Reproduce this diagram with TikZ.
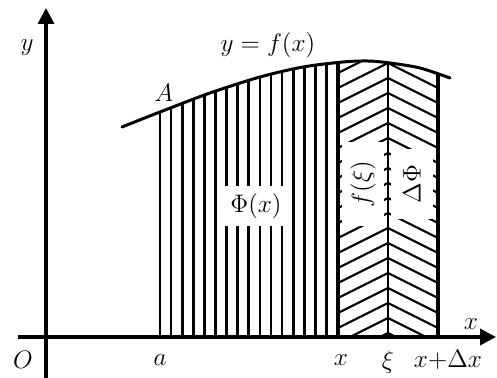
\documentclass[tikz,border=0pt]{standalone}
\usepackage{amsmath,amssymb}
\usepackage{xcolor}
\usepackage{tikz}
\usetikzlibrary{arrows.meta}

\begin{document}
\begin{tikzpicture}[x=0.02cm, y=-0.02cm, >={Triangle[length=3.2mm, width=3.2mm]},
    lbl/.style={font=\fontsize{15}{18}\selectfont, inner sep=1pt},
    gap/.style={lbl, fill=white, inner sep=0pt}]
  \useasboundingbox (0,0) rectangle (497,378);
  \coordinate (a)   at (160,337);
  \coordinate (x)   at (338,337);
  \coordinate (xi)  at (388,337);
  \coordinate (xdx) at (438,337);
  % strips under the curve
  \begin{scope}
    \clip (157,0) rectangle (441,337);
    \clip (122,337) -- plot[smooth] coordinates {(122,127) (160,112) (210,93) (260,77)
          (303,67) (343,62) (368,61) (390,63) (420,68) (450,78)} -- (450,337) -- cycle;
    \foreach \i in {1,...,15}
      \draw[line width=1.5pt] ({160+11.1*\i},337) -- ++(0,-300);
    \foreach \k in {33,48,...,333}
      \draw[line width=1.2pt] (338,\k+25) -- (388,\k) -- (438,\k+25);
    \node[gap, minimum width=40pt, minimum height=23pt] (phi) at (256,206) {$\Phi(x)$};
    \node[gap, rotate=90, minimum width=48pt, minimum height=24pt] (fxi) at (363,184) {$f(\xi)$};
    \node[gap, rotate=90, minimum width=40pt, minimum height=24pt] (dphi) at (412,184) {$\Delta\Phi$};
    \draw[line width=1.7pt] (a) -- ++(0,-337);
    \draw[line width=2.2pt] (x) -- ++(0,-337);
    \draw[line width=1.7pt] (xi) -- ++(0,-337);
    \draw[line width=1.8pt] (xdx) -- ++(0,-337);
  \end{scope}
  \draw[line width=1.7pt, line cap=round] plot[smooth] coordinates {(122,127) (160,112) (210,93) (260,77)
        (303,67) (343,62) (368,61) (390,63) (420,68) (450,78)};
  % axes
  \draw[->, line width=2pt] (18,337) -- (496,337);
  \draw[->, line width=1.9pt] (46,378) -- (46,8);
  \node[lbl] (ylab) at (27,48) {$y$};
  \node[lbl] (xlab) at (471,324) {$x$};
  \node[lbl] (curve) at (268,45) {$y=f(x)$};
  \node[lbl] (A) at (164,93) {$A$};
  \node[lbl] (O) at (23,360) {$O$};
  \node[lbl] (alab) at (160,360) {$a$};
  \node[lbl] (xtick) at (341,360) {$x$};
  \node[lbl] (xitick) at (388,362) {$\xi$};
  \node[lbl] (xdxtick) at (448,360) {$x{+}\Delta x$};
\end{tikzpicture}
\end{document}
